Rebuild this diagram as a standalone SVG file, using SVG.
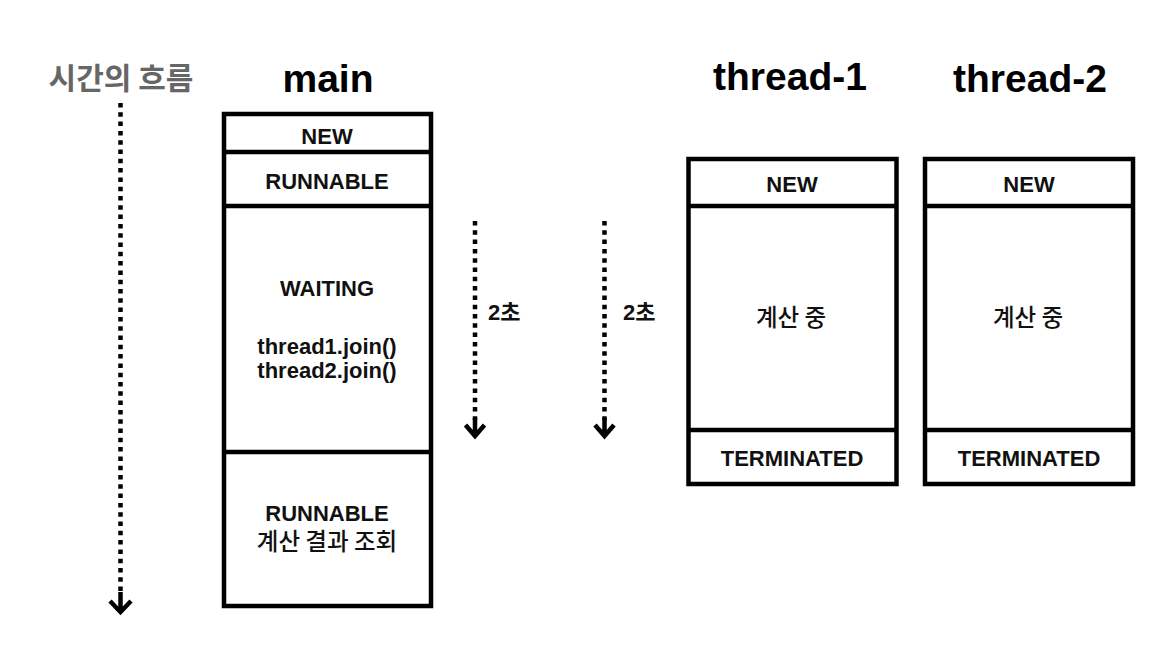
<svg xmlns="http://www.w3.org/2000/svg" width="1170" height="662" viewBox="0 0 1170 662">
  <style>
    .box { fill: #ffffff; stroke: #000000; stroke-width: 4.5; }
    .div { stroke: #000000; stroke-width: 4.5; fill: none; }
    .title { font-family: "Liberation Sans", Arial, sans-serif; font-weight: bold; font-size: 39px; fill: #000; text-anchor: middle; }
    .lbl { font-family: "Liberation Sans", "Noto Sans CJK KR", sans-serif; font-weight: bold; font-size: 22px; fill: #111; text-anchor: middle; }
    .ko { font-family: "Noto Sans CJK KR", sans-serif; font-weight: 500; font-size: 23.5px; fill: #111; text-anchor: middle; }
    .dots { stroke: #000; stroke-width: 4.5; stroke-dasharray: 4.5 4.8; fill: none; }
    .head { stroke: #000; stroke-width: 4.5; fill: none; stroke-linejoin: miter; }
    .sec { font-family: "Liberation Sans", "Noto Sans CJK KR", sans-serif; font-weight: bold; font-size: 22px; fill: #111; }
  </style>
  <rect width="1170" height="662" fill="#ffffff"/>

  <text x="121" y="89" font-family="'Noto Sans CJK KR', sans-serif" font-weight="bold" font-size="30" fill="#666666" text-anchor="middle">시간의 흐름</text>

  <g id="main">
    <text class="title" x="328" y="92">main</text>
    <rect class="box" x="224" y="114" width="207" height="492"/>
    <line class="div" x1="224" y1="152" x2="431" y2="152"/>
    <line class="div" x1="224" y1="206" x2="431" y2="206"/>
    <line class="div" x1="224" y1="452" x2="431" y2="452"/>
    <text class="lbl" x="327" y="144">NEW</text>
    <text class="lbl" x="327" y="189">RUNNABLE</text>
    <text class="lbl" x="327" y="296">WAITING</text>
    <text class="lbl" x="327" y="354">thread1.join()</text>
    <text class="lbl" x="327" y="378">thread2.join()</text>
    <text class="lbl" x="327" y="521">RUNNABLE</text>
    <text class="ko" x="327" y="550">계산 결과 조회</text>
  </g>

  <g id="thread-1">
    <text class="title" x="790" y="90">thread-1</text>
    <rect class="box" x="688.5" y="159" width="208" height="325"/>
    <line class="div" x1="688.5" y1="206" x2="896.5" y2="206"/>
    <line class="div" x1="688.5" y1="430" x2="896.5" y2="430"/>
    <text class="lbl" x="792" y="192">NEW</text>
    <text class="ko" x="791" y="326">계산 중</text>
    <text class="lbl" x="792" y="466">TERMINATED</text>
  </g>

  <g id="thread-2">
    <text class="title" x="1030" y="92">thread-2</text>
    <rect class="box" x="925" y="159" width="208" height="325"/>
    <line class="div" x1="925" y1="206" x2="1133" y2="206"/>
    <line class="div" x1="925" y1="430" x2="1133" y2="430"/>
    <text class="lbl" x="1029" y="192">NEW</text>
    <text class="ko" x="1028" y="326">계산 중</text>
    <text class="lbl" x="1029" y="466">TERMINATED</text>
  </g>

  <g id="connectors">
    <line class="dots" x1="120.5" y1="103" x2="120.5" y2="596"/>
    <path class="head" d="M120.5 592 L120.5 612 M110 601 L120.5 612 L131 601"/>

    <line class="dots" x1="475" y1="221" x2="475" y2="420"/>
    <path class="head" d="M475 418 L475 436 M465.5 425 L475 436 L484.5 425"/>
    <text class="sec" x="488" y="320">2초</text>

    <line class="dots" x1="604.5" y1="221" x2="604.5" y2="420"/>
    <path class="head" d="M604.5 418 L604.5 436 M595 425 L604.5 436 L614 425"/>
    <text class="sec" x="623" y="320">2초</text>
  </g>
</svg>
